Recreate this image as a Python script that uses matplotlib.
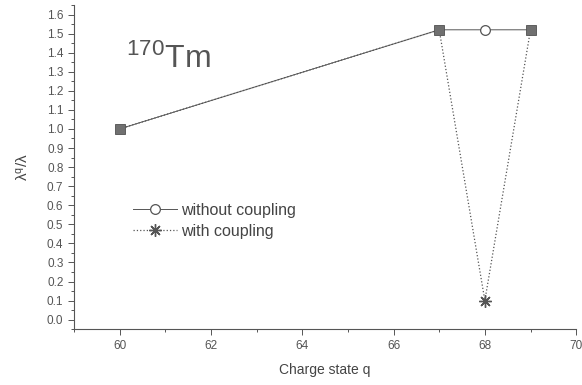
import numpy as np
import matplotlib
matplotlib.use('Agg')
import matplotlib.pyplot as plt
from matplotlib.ticker import MultipleLocator, FormatStrFormatter

plt.rcParams['font.family'] = ['Liberation Sans', 'DejaVu Sans']
plt.rcParams['mathtext.fontset'] = 'custom'
plt.rcParams['mathtext.rm'] = 'Liberation Sans'
plt.rcParams['mathtext.it'] = 'Liberation Sans'

# data
q = np.array([60, 67, 68, 69])
without_coupling = np.array([1.0, 1.52, 1.52, 1.52])
with_coupling = np.array([1.0, 1.52, 0.10, 1.52])

col = '#555555'
fig = plt.figure(figsize=(5.82, 3.85), dpi=100)
ax = fig.add_axes([0.127, 0.145, 0.863, 0.842])

same = np.isclose(without_coupling, with_coupling)
diff = ~same

ax.plot(q, without_coupling, '-', color=col, lw=0.7, marker='o', ms=7,
        mfc='white', mec=col, mew=0.9, markevery=list(np.where(diff)[0]),
        label='without coupling')
ax.plot(q, with_coupling, ':', color=col, lw=0.9, marker=(8, 2, 0), ms=9,
        mec=col, mew=1.0, markevery=list(np.where(diff)[0]),
        label='with coupling')
# points where both series coincide
ax.plot(q[same], with_coupling[same], 's', color='#707070', ms=7.5, mec='#505050',
        mew=0.6, ls='none')

ax.set_xlim(59, 70)
ax.set_ylim(-0.05, 1.65)
ax.xaxis.set_major_locator(MultipleLocator(2))
ax.xaxis.set_minor_locator(MultipleLocator(1))
ax.yaxis.set_major_locator(MultipleLocator(0.1))
ax.yaxis.set_minor_locator(MultipleLocator(0.05))
ax.yaxis.set_major_formatter(FormatStrFormatter('%.1f'))
ax.tick_params(which='both', direction='out', colors=col, labelcolor='#555555',
               labelsize=8.5, width=0.7)
ax.tick_params(which='major', length=4)
ax.tick_params(which='minor', length=2)
for s in ['top', 'right']:
    ax.spines[s].set_visible(False)
for s in ['left', 'bottom']:
    ax.spines[s].set_color(col)
    ax.spines[s].set_linewidth(0.8)

ax.set_xlabel('Charge state q', fontsize=10, color='#444444', labelpad=8)
ax.set_ylabel('λ$^q$/λ', fontsize=11, color='#444444', labelpad=12)

ax.text(60.15, 1.32, r'$^{170}$Tm', fontsize=23, color='#555555')

leg = ax.legend(loc='upper left', bbox_to_anchor=(0.09, 0.435), frameon=False,
                fontsize=11.5, handlelength=2.7, handletextpad=0.3, labelspacing=0.4)
for t in leg.get_texts():
    t.set_color('#444444')

fig.savefig('out.png', dpi=100)
